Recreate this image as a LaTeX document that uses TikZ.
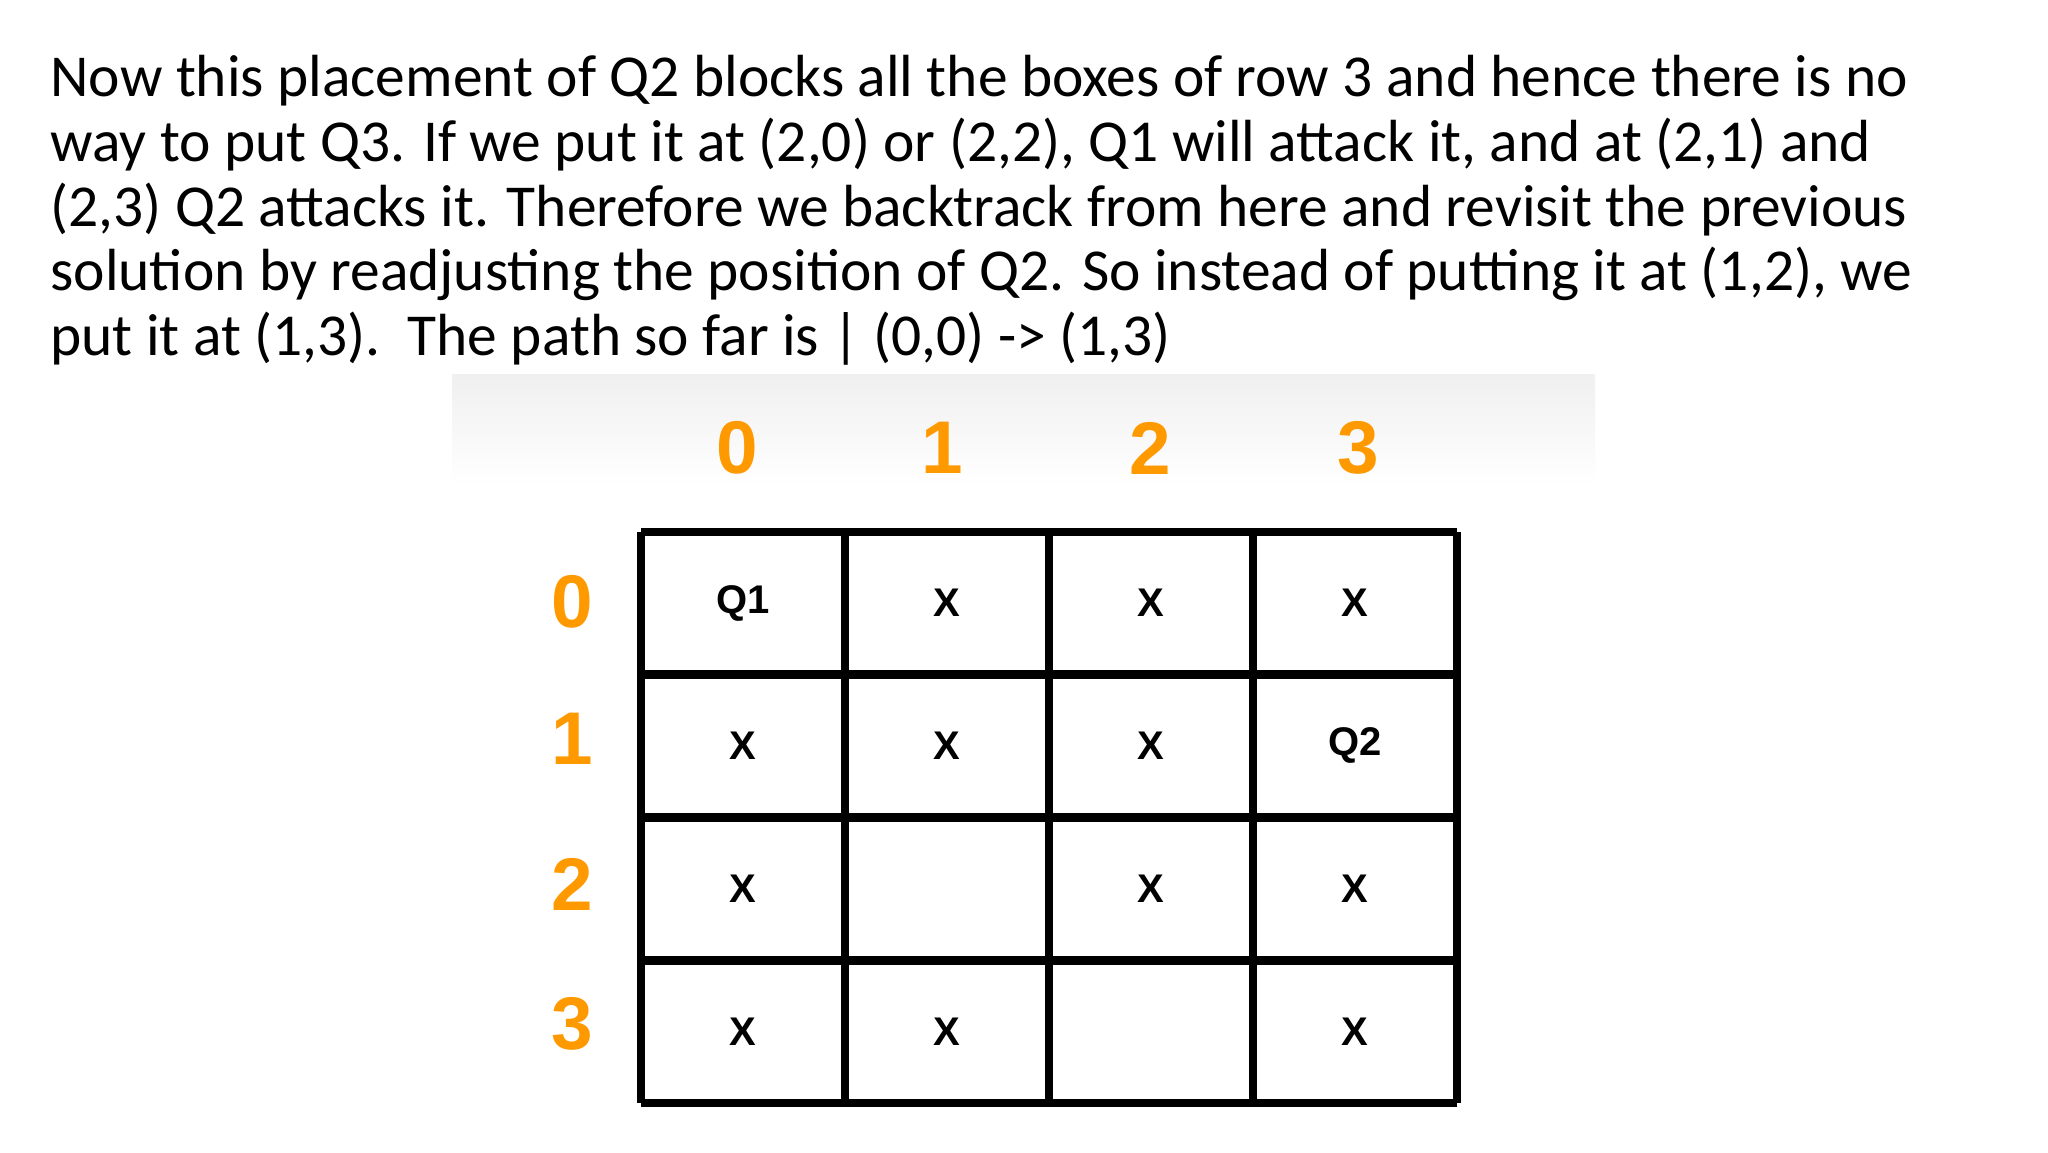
\documentclass[tikz,border=0pt]{standalone}
\usepackage{fontspec}
\setmainfont{Carlito}
\newfontfamily\lab{Liberation Sans}
\begin{document}
\begin{tikzpicture}[x=0.375pt,y=-0.375pt,
  txt/.style={anchor=base west,inner sep=0pt,font=\fontsize{22.3}{26}\selectfont},
  hd/.style={text=orange!80!yellow,font=\lab\bfseries\fontsize{28}{30}\selectfont},
  cell/.style={font=\lab\bfseries\fontsize{15}{17}\selectfont}]
\useasboundingbox[fill=white] (0,0) rectangle (2048,1152);
\shade[top color=gray!12,bottom color=white] (452,374) rectangle (1595,485);
\node[txt] (l1) at (50,96) {Now this placement of Q2 blocks all the boxes of row 3 and hence there is no};
\node[txt] (l2) at (50,161) {way to put Q3. If we put it at (2,0) or (2,2), Q1 will attack it, and at (2,1) and};
\node[txt] (l3) at (50,226) {(2,3) Q2 attacks it. Therefore we backtrack from here and revisit the previous};
\node[txt] (l4) at (50,290) {solution by readjusting the position of Q2. So instead of putting it at (1,2), we};
\node[txt] (l5) at (50,355) {put it at (1,3).\ \ The path so far is | (0,0) -> (1,3)};
\foreach \i in {0,...,4}{
  \draw[line width=3.3] ({641+204*\i},532) -- ({641+204*\i},1103);
  \draw[line width=3.3] (641,{532+142.75*\i}) -- (1457,{532+142.75*\i});
}
\foreach \i/\x in {0/737,1/942,2/1150,3/1358}
  \node[hd] (c\i) at (\x,448) {\i};
\foreach \i/\y in {0/602,1/739,2/884,3/1024}
  \node[hd] (r\i) at (572,\y) {\i};
\foreach \t [count=\k from 0] in {Q1,X,X,X,X,X,X,Q2,X,,X,X,X,X,,X}{
  \pgfmathtruncatemacro\r{int(\k/4)}
  \pgfmathtruncatemacro\c{mod(\k,4)}
  \node[cell] (n\k) at ({743+204*\c},{603+142.75*\r}) {\t};
}
\end{tikzpicture}
\end{document}
